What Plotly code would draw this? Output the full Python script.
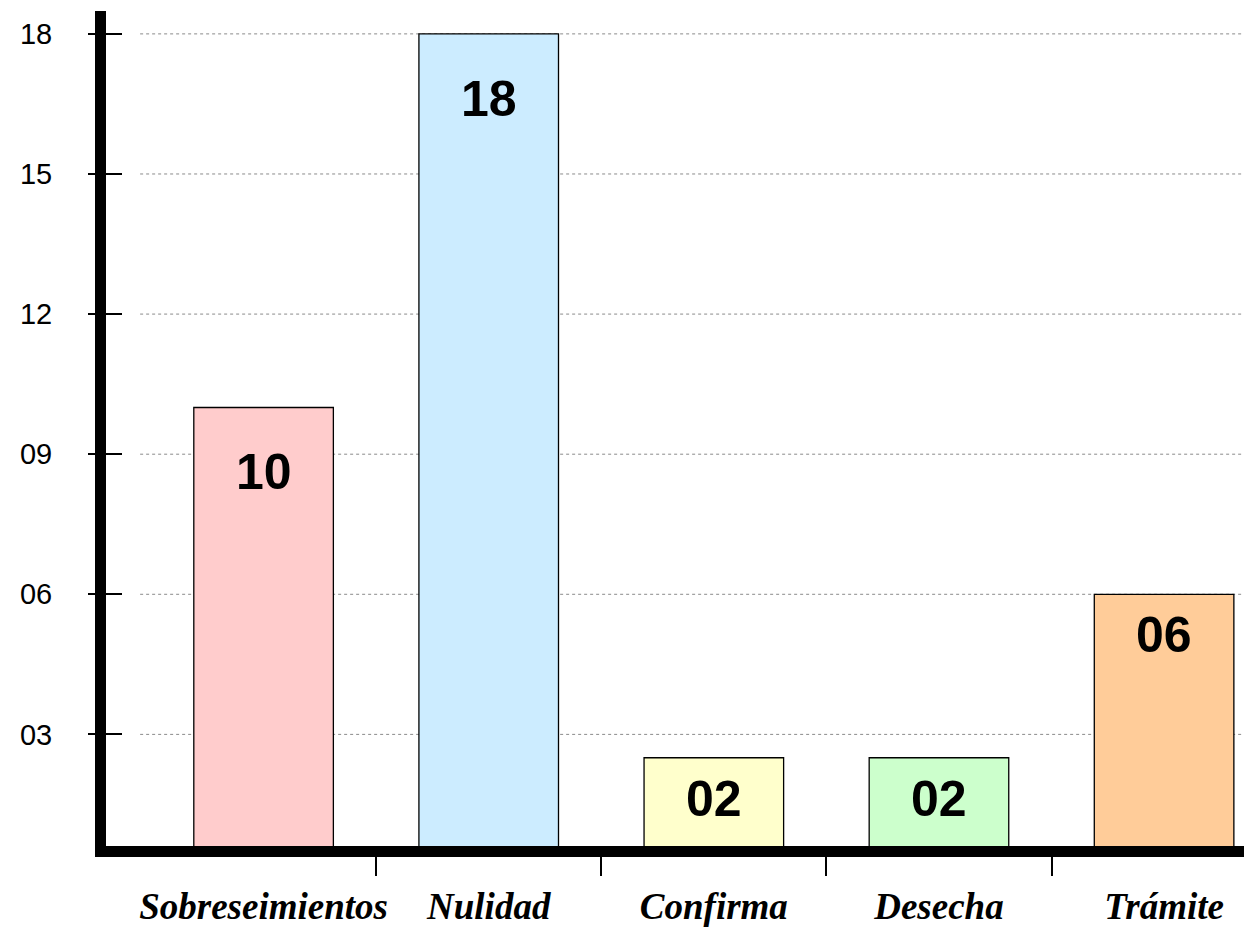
import plotly.graph_objects as go

# ---- data ----
CATEGORIES = ["Sobreseimientos", "Nulidad", "Confirma", "Desecha", "Trámite"]
BAR_HEIGHTS = [10, 18, 2.5, 2.5, 6]
BAR_LABELS = ["10", "18", "02", "02", "06"]
Y_TICKS = [3, 6, 9, 12, 15, 18]
Y_TICK_TEXT = ["03", "06", "09", "12", "15", "18"]

# ---- styles ----
BAR_COLORS = ["#FFCCCC", "#CCECFF", "#FFFFCC", "#CCFFCC", "#FFCC99"]
LABEL_SHIFTS = [-65, -65, -41, -41, -41]
X_RANGE = [-0.70, 4.355]
Y_RANGE = [0.61, 18.49]

idx = list(range(len(CATEGORIES)))

fig = go.Figure()
fig.add_trace(go.Bar(
    x=idx, y=BAR_HEIGHTS, width=0.62,
    marker=dict(color=BAR_COLORS, line=dict(color="black", width=1.3)),
    hoverinfo="skip", showlegend=False,
))
# invisible trace carrying the overlay axes (boundary ticks / inner y ticks)
fig.add_trace(go.Scatter(x=[None], y=[None], xaxis="x2", yaxis="y2",
                         mode="markers", showlegend=False, hoverinfo="skip"))

for i, (h, lab, sh) in enumerate(zip(BAR_HEIGHTS, BAR_LABELS, LABEL_SHIFTS)):
    fig.add_annotation(x=i, y=h, text=lab, showarrow=False, yshift=sh,
                       yanchor="middle", xanchor="center",
                       font=dict(family="Liberation Sans, Arial", size=50,
                                 color="black", weight="bold"))

for v in Y_TICKS:
    fig.add_shape(type="line", xref="x domain", yref="y", x0=0.03, x1=1,
                  y0=v, y1=v, layer="below",
                  line=dict(color="#8a8a8a", width=1, dash="dot"))

fig.update_layout(
    width=1244, height=927,
    margin=dict(l=106, r=0, t=11, b=70),
    paper_bgcolor="white", plot_bgcolor="white",
    showlegend=False,
    xaxis=dict(
        range=X_RANGE, tickmode="array", tickvals=idx, ticktext=CATEGORIES,
        showgrid=False, zeroline=False,
        showline=True, linecolor="black", linewidth=11,
        ticks="", ticklabelstandoff=18,
        tickfont=dict(family="Liberation Serif, Times New Roman", size=37,
                      color="black", weight="bold", style="italic"),
    ),
    xaxis2=dict(
        range=X_RANGE, overlaying="x", anchor="y", side="bottom",
        tickmode="array", tickvals=[i + 0.5 for i in idx[:-1]],
        ticks="outside", ticklen=29, tickwidth=1.6, tickcolor="black",
        showticklabels=False, showgrid=False, zeroline=False, showline=False,
    ),
    yaxis=dict(
        range=Y_RANGE, tickmode="array", tickvals=Y_TICKS, ticktext=Y_TICK_TEXT,
        showgrid=False, zeroline=False,
        showline=True, linecolor="black", linewidth=11,
        ticks="outside", ticklen=7, tickwidth=1.6, tickcolor="black",
        ticklabelstandoff=30,
        tickfont=dict(family="Liberation Sans, Arial", size=29, color="black"),
    ),
    yaxis2=dict(
        range=Y_RANGE, overlaying="y", anchor="x", side="left",
        tickmode="array", tickvals=Y_TICKS,
        ticks="inside", ticklen=16, tickwidth=1.6, tickcolor="black",
        showticklabels=False, showgrid=False, zeroline=False, showline=False,
    ),
)

fig.write_html("out.html",
               config={"displayModeBar": False},
               post_script="document.body.style.margin='0px';"
                           "document.body.style.overflow='hidden';")
